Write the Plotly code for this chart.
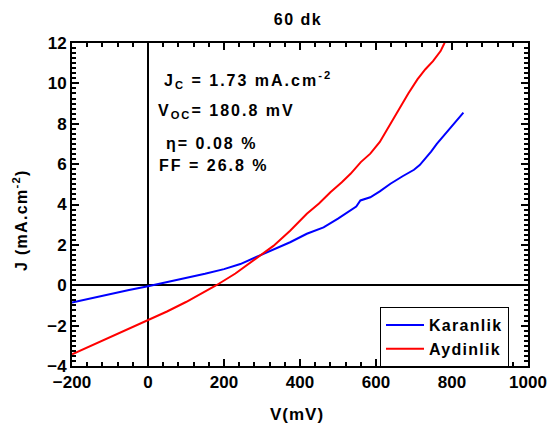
import plotly.graph_objects as go

# Dark (Karanlik) J-V curve
v_dark = [-200, -150, -100, -50, 0, 50, 100, 150, 200, 243, 285, 330, 374, 418,
          462, 500, 533, 548, 559, 572, 585, 610, 638, 670, 700, 715, 730, 745,
          760, 790, 823, 830]
j_dark = [-0.85, -0.64, -0.44, -0.24, -0.05, 0.15, 0.36, 0.57, 0.80, 1.05, 1.40,
          1.78, 2.13, 2.55, 2.87, 3.30, 3.70, 3.90, 4.20, 4.30, 4.36, 4.65, 5.03,
          5.40, 5.72, 5.95, 6.28, 6.62, 7.00, 7.65, 8.42, 8.55]

# Illuminated (Aydinlik) J-V curve
v_light = [-200, -150, -100, -50, 0, 50, 100, 150, 180, 230, 278, 330, 374, 418,
           450, 480, 510, 533, 560, 585, 610, 635, 660, 685, 709, 730, 750, 770,
           779, 785]
j_light = [-3.42, -3.00, -2.58, -2.16, -1.73, -1.30, -0.83, -0.33, 0.00, 0.58,
           1.22, 1.95, 2.70, 3.54, 4.05, 4.61, 5.10, 5.52, 6.10, 6.52, 7.10, 7.90,
           8.75, 9.50, 10.20, 10.70, 11.10, 11.60, 11.95, 12.20]

series_names = ["Karanlik", "Aydinlik"]
series_colors = ["#0000ff", "#ff0000"]

X_RANGE = [-200, 1000]
Y_RANGE = [-4, 12]

FONT = "Liberation Sans, Arial, sans-serif"
TICK_COLOR = "black"


def spaced(text, px):
    return f"<span style='letter-spacing:{px}px'>{text}</span>"


fig = go.Figure()
for v, j, name, color in [(v_dark, j_dark, series_names[0], series_colors[0]),
                          (v_light, j_light, series_names[1], series_colors[1])]:
    fig.add_trace(go.Scatter(x=v, y=j, mode="lines", name=spaced(name, 1.3),
                             line=dict(color=color, width=2)))

# frame with inward major/minor ticks on all four sides
fig.update_xaxes(range=X_RANGE, dtick=200, ticks="inside", ticklen=7, tickwidth=2,
                 tickcolor=TICK_COLOR, showline=True, linecolor="black", linewidth=2,
                 mirror="ticks",
                 minor=dict(ticks="inside", ticklen=4, tickwidth=2, tickcolor=TICK_COLOR, dtick=40),
                 tickprefix="<b>", ticksuffix="</b>",
                 tickfont=dict(family=FONT, size=17, color="black"),
                 gridcolor="rgba(0,0,0,0)", zerolinecolor="black", zerolinewidth=2)
fig.update_yaxes(range=Y_RANGE, dtick=2, ticks="inside", ticklen=7, tickwidth=2,
                 tickcolor=TICK_COLOR, showline=True, linecolor="black", linewidth=2,
                 mirror="ticks",
                 minor=dict(ticks="inside", ticklen=4, tickwidth=2, tickcolor=TICK_COLOR, dtick=0.25),
                 tickprefix="<b>", ticksuffix="</b>",
                 tickfont=dict(family=FONT, size=17, color="black"),
                 gridcolor="rgba(0,0,0,0)", zerolinecolor="black", zerolinewidth=2)

title_font = dict(family=FONT, size=17, color="black", weight="bold")

# axis titles
fig.add_annotation(text=spaced("V(mV)", 1), xref="paper", yref="paper",
                   x=(297 - 72) / 456, y=(366 - 414) / 323, showarrow=False,
                   xanchor="center", yanchor="middle", font=title_font)
fig.add_annotation(text=spaced("J (mA.cm<sup>-2</sup>)", 1.3), xref="paper", yref="paper",
                   x=(20 - 72) / 456, y=(366 - 220) / 323, showarrow=False,
                   textangle=-90, xanchor="center", yanchor="middle",
                   font=dict(family=FONT, size=16, color="black", weight="bold"))

# cell parameters
ann_font = dict(family=FONT, size=16, color="black", weight="bold")
params = [
    ("J<sub>C</sub> = 1.73 mA.cm<sup>-2</sup>", 162, 80),
    ("V<sub>OC</sub>= 180.8 mV", 156, 111),
    ("\u03b7= 0.08 %", 164, 143),
    ("FF = 26.8 %", 157, 165),
]
for text, xpx, ypx in params:
    fig.add_annotation(
        x=(xpx - 72) / 456, xref="paper", y=(366 - ypx) / 323, yref="paper",
        text=spaced(text, 2), showarrow=False, xanchor="left", yanchor="middle",
        font=ann_font,
    )

fig.update_layout(
    template="none",
    width=547, height=429,
    margin=dict(l=72, r=19, t=43, b=63),
    title=dict(text=spaced("60 dk", 1.5), x=298 / 547, xanchor="center",
               y=1 - 19 / 429, yanchor="middle",
               font=dict(family=FONT, size=16, color="black", weight="bold")),
    legend=dict(x=(380 - 72) / 456, y=(366 - 307) / 323, xanchor="left", yanchor="top",
                bordercolor="black", borderwidth=1, bgcolor="white",
                font=dict(family=FONT, size=16, color="black", weight="bold"),
                tracegroupgap=0, itemwidth=38),
    showlegend=True,
)

fig.write_html("out.html")
